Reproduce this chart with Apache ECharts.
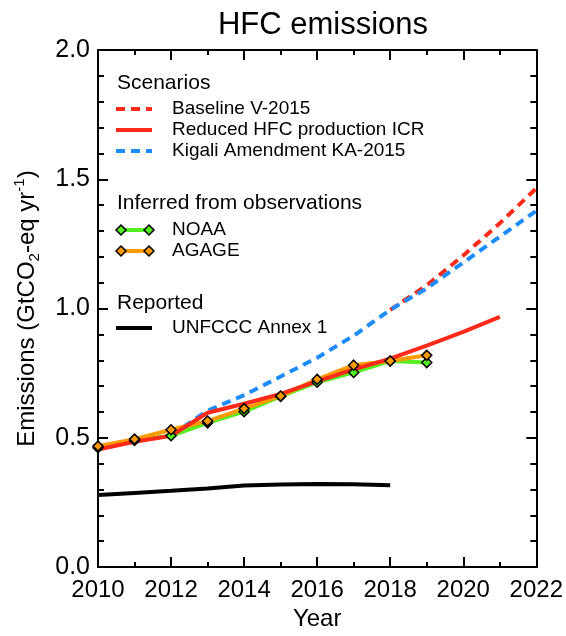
<!DOCTYPE html>
<html>
<head>
<meta charset="utf-8">
<script src="https://cdn.jsdelivr.net/npm/echarts@6/dist/echarts.min.js"></script>
<style>
  html, body { margin: 0; padding: 0; background: #fff; }
  #chart { width: 566px; height: 636px; }
</style>
</head>
<body>
<div id="chart"></div>
<script>
// ---- data ----
const obsYears = [2010, 2011, 2012, 2013, 2014, 2015, 2016, 2017, 2018, 2019];
const noaa  = [0.462, 0.490, 0.508, 0.558, 0.601, 0.660, 0.715, 0.753, 0.797, 0.791];
const agage = [0.468, 0.495, 0.531, 0.565, 0.613, 0.662, 0.726, 0.781, 0.797, 0.819];

const icrYears = [2010, 2011, 2012, 2013, 2014, 2015, 2016, 2017, 2018, 2019, 2020, 2021];
const icr      = [0.455, 0.485, 0.508, 0.597, 0.632, 0.670, 0.718, 0.765, 0.806, 0.857, 0.910, 0.968];

const kaYears = [2012, 2013, 2014, 2015, 2016, 2017, 2018, 2019, 2020, 2021, 2022];
const ka      = [0.510, 0.605, 0.665, 0.737, 0.810, 0.895, 0.995, 1.078, 1.178, 1.278, 1.378];

const baseYears = [2018, 2019, 2020, 2021, 2022];
const baseline  = [0.995, 1.090, 1.205, 1.330, 1.465];

const unfcccYears = [2010, 2011, 2012, 2013, 2014, 2015, 2016, 2017, 2018];
const unfccc      = [0.279, 0.287, 0.295, 0.304, 0.316, 0.319, 0.321, 0.320, 0.317];

const titleText = 'HFC emissions';
const xName = 'Year';
const legendHeaders = ['Scenarios', 'Inferred from observations', 'Reported'];
const legendLabels = ['Baseline V-2015', 'Reduced HFC production ICR', 'Kigali Amendment KA-2015', 'NOAA', 'AGAGE', 'UNFCCC Annex 1'];

// ---- styles ----
const RED = '#ff2a1a', BLUE = '#1e8cff', GREEN = '#55ee22', ORANGE = '#ff9a00', BLACK = '#000';
const FONT = '"Liberation Sans", Arial, Helvetica, sans-serif';
const DASH = [9, 6];

const pair = (xs, ys) => xs.map((x, i) => [x, ys[i]]);

const chart = echarts.init(document.getElementById('chart'), null, { renderer: 'canvas' });

const axisCommon = {
  axisLine: { show: true, onZero: false, lineStyle: { color: BLACK, width: 2 } },
  splitLine: { show: false },
};

// legend graphics
const g = [];
const hx = 117, sx0 = 116, sx1 = 152, tx = 172;
function header(text, y) {
  g.push({ type: 'text', silent: true, style: { text, x: hx, y, fontSize: 21, fontFamily: FONT, fill: BLACK, verticalAlign: 'middle' } });
}
function label(text, y) {
  g.push({ type: 'text', silent: true, style: { text, x: tx, y, fontSize: 19, fontFamily: FONT, fill: BLACK, verticalAlign: 'middle' } });
}
function sample(y, color, dash) {
  g.push({ type: 'line', silent: true, shape: { x1: sx0, y1: y, x2: sx1, y2: y },
    style: { stroke: color, lineWidth: 4, lineDash: dash || null } });
}
function diamond(cx, cy, fill) {
  const r = 5;
  g.push({ type: 'polygon', silent: true, shape: { points: [[cx, cy - r], [cx + r, cy], [cx, cy + r], [cx - r, cy]] },
    style: { fill, stroke: BLACK, lineWidth: 1.5 } });
}
function obsSample(y, color) {
  g.push({ type: 'line', silent: true, shape: { x1: 121, y1: y, x2: 149, y2: y }, style: { stroke: color, lineWidth: 4 } });
  diamond(121, y, color); diamond(149, y, color);
}
header(legendHeaders[0], 83);
sample(109, RED, DASH); label(legendLabels[0], 109);
sample(130, RED); label(legendLabels[1], 130);
sample(151, BLUE, DASH); label(legendLabels[2], 151);
header(legendHeaders[1], 203);
obsSample(230, GREEN); label(legendLabels[3], 230);
obsSample(251, ORANGE); label(legendLabels[4], 251);
header(legendHeaders[2], 303);
sample(328, BLACK); label(legendLabels[5], 328);

const option = {
  animation: false,
  backgroundColor: '#fff',
  title: {
    text: titleText, left: 318, top: 5, textAlign: 'center',
    textStyle: { fontSize: 31, fontWeight: 'normal', fontFamily: FONT, color: BLACK }
  },
  grid: { left: 98, right: 29, top: 50, bottom: 61, containLabel: false },
  xAxis: [
    Object.assign({}, axisCommon, {
      type: 'value', min: 2010, max: 2022, interval: 2, position: 'bottom',
      name: xName, nameLocation: 'middle', nameGap: 36,
      nameTextStyle: { fontSize: 24, fontFamily: FONT, color: BLACK },
      axisTick: { show: true, inside: true, length: 10, lineStyle: { color: BLACK, width: 2 } },
      minorTick: { show: true, splitNumber: 2, length: 5, lineStyle: { color: BLACK, width: 2 } },
      axisLabel: { show: true, margin: 11, fontSize: 24, fontFamily: FONT, color: BLACK, formatter: v => String(v) }
    }),
    Object.assign({}, axisCommon, {
      type: 'value', min: 2010, max: 2022, interval: 2, position: 'top',
      axisTick: { show: true, inside: true, length: 10, lineStyle: { color: BLACK, width: 2 } },
      minorTick: { show: true, splitNumber: 2, length: 5, lineStyle: { color: BLACK, width: 2 } },
      axisLabel: { show: false }
    })
  ],
  yAxis: [
    Object.assign({}, axisCommon, {
      type: 'value', min: 0, max: 2, interval: 0.5, position: 'left',
      name: '{a|Emissions (GtCO}{s|2}{a|-eq yr}{p|-1}{a|)}',
      nameLocation: 'middle', nameGap: 56, nameRotate: 90,
      nameTextStyle: {
        fontFamily: FONT, color: BLACK,
        rich: {
          a: { fontSize: 24, fontFamily: FONT, color: BLACK, lineHeight: 30 },
          s: { fontSize: 15, fontFamily: FONT, color: BLACK, lineHeight: 16, verticalAlign: 'bottom' },
          p: { fontSize: 15, fontFamily: FONT, color: BLACK, lineHeight: 16, verticalAlign: 'top' }
        }
      },
      axisTick: { show: true, inside: true, length: 10, lineStyle: { color: BLACK, width: 2 } },
      minorTick: { show: true, splitNumber: 5, length: 6, lineStyle: { color: BLACK, width: 2 } },
      axisLabel: { show: true, margin: 8, fontSize: 25, fontFamily: FONT, color: BLACK, formatter: v => v.toFixed(1) }
    }),
    Object.assign({}, axisCommon, {
      type: 'value', min: 0, max: 2, interval: 0.5, position: 'right',
      axisTick: { show: true, inside: true, length: 10, lineStyle: { color: BLACK, width: 2 } },
      minorTick: { show: true, splitNumber: 5, length: 6, lineStyle: { color: BLACK, width: 2 } },
      axisLabel: { show: false }
    })
  ],
  graphic: g,
  series: [
    { name: 'Baseline V-2015', type: 'line', data: pair(baseYears, baseline), symbol: 'none', z: 2,
      lineStyle: { color: RED, width: 4, type: DASH } },
    { name: 'Kigali Amendment KA-2015', type: 'line', data: pair(kaYears, ka), symbol: 'none', z: 3,
      lineStyle: { color: BLUE, width: 4, type: DASH } },
    { name: 'NOAA', type: 'line', data: pair(obsYears, noaa), symbol: 'none', z: 4,
      lineStyle: { color: GREEN, width: 4 } },
    { name: 'AGAGE', type: 'line', data: pair(obsYears, agage), symbol: 'none', z: 5,
      lineStyle: { color: ORANGE, width: 4 } },
    { name: 'Reduced HFC production ICR', type: 'line', data: pair(icrYears, icr), symbol: 'none', z: 6,
      lineStyle: { color: RED, width: 4 } },
    { name: 'UNFCCC Annex 1', type: 'line', data: pair(unfcccYears, unfccc), symbol: 'none', z: 6,
      lineStyle: { color: BLACK, width: 4 } },
    { name: 'NOAA markers', type: 'scatter', data: pair(obsYears, noaa), symbol: 'diamond', symbolSize: [10, 10], z: 7,
      itemStyle: { color: GREEN, borderColor: BLACK, borderWidth: 1.5, opacity: 1 } },
    { name: 'AGAGE markers', type: 'scatter', data: pair(obsYears, agage), symbol: 'diamond', symbolSize: [10, 10], z: 8,
      itemStyle: { color: ORANGE, borderColor: BLACK, borderWidth: 1.5, opacity: 1 } }
  ]
};
chart.setOption(option);
</script>
</body>
</html>
